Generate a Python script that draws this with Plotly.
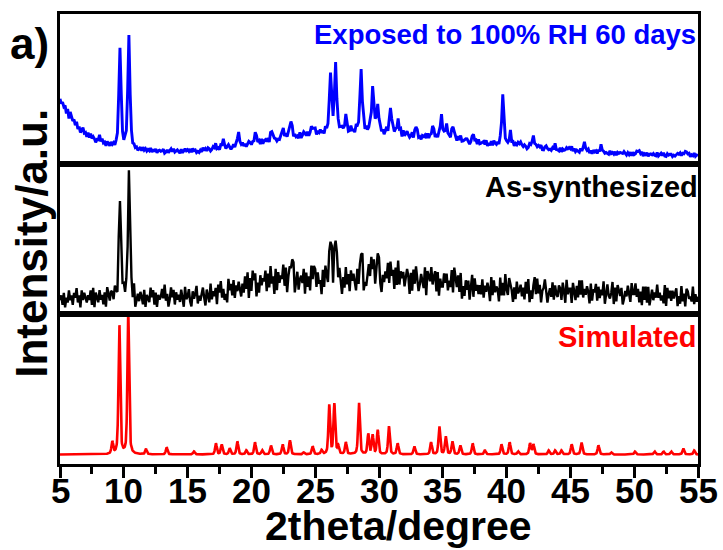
import numpy as np
import plotly.graph_objects as go

# ---- Simulated pattern: reflection positions (2theta, deg) and relative intensities
sim_pos = [9.10, 9.65, 10.35, 11.74, 13.36, 15.50, 17.22, 17.67, 18.30, 18.90,
           19.60, 20.28, 20.85, 21.53, 22.45, 23.02, 24.10, 24.80, 25.50, 26.10,
           26.50, 26.80, 27.40, 28.43, 29.16, 29.50, 29.90, 30.78, 31.46, 32.77,
           34.08, 34.73, 35.23, 35.75, 36.37, 37.34, 38.30, 39.60, 40.24, 40.90,
           41.84, 42.10, 43.30, 43.80, 44.30, 45.10, 45.87, 47.20, 48.20, 50.06,
           51.60, 52.30, 52.90, 53.85, 54.70]
sim_int = [12, 130, 139, 5, 7, 3, 11, 10, 6, 13,
           4, 12, 4, 9, 10, 14, 2, 8, 4, 49,
           50, 8, 12, 52, 20, 19, 24, 28, 11, 8,
           12, 28, 18, 13, 9, 11, 4, 10, 12, 3,
           11, 10, 4, 4, 4, 10, 12, 9, 2, 3,
           3, 3, 3, 6, 4]
sim_offset = 9.5

# ---- As-synthesized scan: reflections, amorphous background, point scatter
syn_pos = [9.1, 9.7, 10.4, 13.2, 23.1, 25.0, 26.2, 26.6, 28.6, 29.5,
           29.9, 30.9, 31.6, 34.3, 35.0, 35.9, 39.9, 42.2]
syn_int = [6, 100, 119, 8, 18, 8, 38, 50, 26, 24,
           22, 14, 9, 9, 7, 11, 7, 5]
syn_bg_pos = [22.0, 31.0, 44.0]
syn_bg_int = [15, 17, 6]
syn_bg_fwhm = [7.0, 11.0, 14.0]
syn_offset = 15.0
syn_jitter = (
    "4627153846 2759361847 5364829175 3846271953 6428519374"
    "7351846290 4637528164 3958271645 8372614958 2746385194"
    "5831746925 3684175293 6471859362 4195738264 7526384917"
    "3968152746 5827394618 2746593815 6389147256 4817362958"
    "6274518396 3859172648 5163947285 7428365914 3695817246"
    "8316475926 4728391657 3586172849 6247539186 5934728163"
    "2758364917 6483915274 7159284636 3826475193 8465193728"
    "4397516284 5736284915 2683947156 9514638274 3762851946"
    "6185273949 3647518265 8273649158 4359172864 7136485295"
    "5947261838 2815736494 6352918473 7468152936 1874539263"
    "5"
)

# ---- Sample exposed to 100% RH for 60 days
hum_pos = [8.1, 9.7, 10.4, 17.2, 17.8, 19.0, 20.3, 21.6, 22.5, 23.1,
           24.8, 26.2, 26.6, 27.4, 28.6, 29.5, 29.9, 30.9, 31.5, 32.9,
           34.2, 34.9, 35.3, 35.8, 36.4, 37.4, 39.7, 40.3, 41.0, 42.1,
           43.8, 45.1, 46.1, 47.4, 50.3, 54.0]
hum_int = [5, 100, 112, 5, 8, 14, 11, 10, 9, 15,
           7, 60, 63, 13, 63, 43, 26, 27, 14, 8,
           14, 24, 14, 15, 5, 7, 48, 12, 4, 13,
           4, 3, 9, 6, 4, 4]
hum_bg_pos = [4.0, 27.0, 38.0]
hum_bg_int = [70, 22, 9]
hum_bg_fwhm = [4.0, 13.0, 14.0]
hum_bg_eta = [1.0, 0.0, 0.0]
hum_offset = 8.5
hum_jitter = (
    "5364728195 4738261594 6283947515 3729461852 8461537294"
    "2945618373 6158294736 4927381564 5813726949 3674182595"
    "7482956131 5294738624 8361529474 2695148376 5148362797"
    "3615847292 6748193555 2437961848 7592634181 4863725926"
    "9264735184 3518269474 6742851393 5186473292 7359164845"
    "4736159282 5847362919 3695248176 8241657393 6127384955"
    "1856374926 7392514688 5148637293 4673915282 9536172844"
    "6429183757 2864751396 4317586922 7953426181 3281645979"
    "5718364293 4635927185 7281946353 2946381757 6594273818"
    "3472859164 8156473292 5839217466 1425869373 4768153925"
    "4"
)

x_ticks = [5, 10, 15, 20, 25, 30, 35, 40, 45, 50, 55]


def pseudo_voigt(x, pos, height, fwhm, eta):
    hw = fwhm / 2.0
    u = (x - pos) / hw
    return height * (eta / (1.0 + u ** 2) + (1.0 - eta) * np.exp(-np.log(2) * u ** 2))


def profile(x, positions, heights, fwhm, eta):
    y = np.zeros_like(x)
    for p, h in zip(positions, heights):
        y += pseudo_voigt(x, p, h, fwhm, eta)
    return y


def digits(s):
    return np.array([int(c) for c in s if c.isdigit()], dtype=float)


# simulated trace on a fine step
x_sim = np.arange(5.0, 55.0001, 0.02)
y_sim = sim_offset + profile(x_sim, sim_pos, sim_int, 0.16, 0.5)

# as-synthesized trace, 0.1 deg step
j_syn = (digits(syn_jitter) - 4.5) / 4.5
x_syn = 5.0 + 0.1 * np.arange(len(j_syn))
bg_syn = syn_offset + sum(pseudo_voigt(x_syn, p, h, w, 0.0)
                          for p, h, w in zip(syn_bg_pos, syn_bg_int, syn_bg_fwhm))
y_syn = bg_syn + profile(x_syn, syn_pos, syn_int, 0.2, 0.6) + 2.8 * np.sqrt(bg_syn) * j_syn

# humidity-exposed trace, 0.1 deg step
j_hum = (digits(hum_jitter) - 4.5) / 4.5
x_hum = 5.0 + 0.1 * np.arange(len(j_hum))
bg_hum = hum_offset + sum(pseudo_voigt(x_hum, p, h, w, e)
                          for p, h, w, e in zip(hum_bg_pos, hum_bg_int, hum_bg_fwhm, hum_bg_eta))
y_hum = bg_hum + profile(x_hum, hum_pos, hum_int, 0.2, 0.6) + 0.7 * np.sqrt(bg_hum) * j_hum

FONT = "Liberation Sans, Arial, sans-serif"
BORDER = 3

fig = go.Figure()
fig.add_trace(go.Scatter(x=x_sim, y=y_sim, mode="lines", line=dict(color="#FF0000", width=2.6),
                         xaxis="x", yaxis="y", showlegend=False, hoverinfo="skip"))
fig.add_trace(go.Scatter(x=x_syn, y=y_syn, mode="lines", line=dict(color="#000000", width=2.4),
                         xaxis="x2", yaxis="y2", showlegend=False, hoverinfo="skip"))
fig.add_trace(go.Scatter(x=x_hum, y=y_hum, mode="lines", line=dict(color="#0000FF", width=2.9),
                         xaxis="x3", yaxis="y3", showlegend=False, hoverinfo="skip"))

box = dict(showline=True, mirror=True, linewidth=BORDER, linecolor="black",
           showgrid=False, zeroline=False)

fig.update_layout(
    width=723, height=550,
    margin=dict(l=60, r=25, t=14, b=86),
    paper_bgcolor="white", plot_bgcolor="white",
    xaxis=dict(domain=[0, 1], anchor="y", range=[5, 55], tickmode="array", tickvals=x_ticks,
               showticklabels=False,
               ticks="outside", ticklen=11, tickwidth=BORDER, tickcolor="black",
               minor=dict(dtick=2.5, tick0=5, ticks="outside", ticklen=7,
                          tickwidth=BORDER, tickcolor="black"),
               **box),
    xaxis2=dict(domain=[0, 1], anchor="y2", range=[5, 55], matches="x",
                showticklabels=False, ticks="", **box),
    xaxis3=dict(domain=[0, 1], anchor="y3", range=[5, 55], matches="x",
                showticklabels=False, ticks="", **box),
    yaxis=dict(domain=[0, 1 / 3], anchor="x", range=[0, 150], showticklabels=False, ticks="", **box),
    yaxis2=dict(domain=[1 / 3, 2 / 3], anchor="x2", range=[0, 150], showticklabels=False, ticks="", **box),
    yaxis3=dict(domain=[2 / 3, 1], anchor="x3", range=[0, 150], showticklabels=False, ticks="", **box),
)

annotations = [
    dict(text="<b>Exposed to 100% RH 60 days</b>", x=1.0, xshift=0, y=0.955, xanchor="right", yanchor="middle",
         font=dict(family=FONT, size=27.5, color="#0000FF")),
    dict(text="<b>As-synthesized</b>", x=1.0, xshift=2, y=0.615, xanchor="right", yanchor="middle",
         font=dict(family=FONT, size=29, color="black")),
    dict(text="<b>Simulated</b>", x=1.0, xshift=1, y=0.282, xanchor="right", yanchor="middle",
         font=dict(family=FONT, size=29, color="#FF0000")),
    dict(text="<b>a)</b>", x=-0.082, y=0.935, xanchor="left", yanchor="middle",
         font=dict(family=FONT, size=44, color="black")),
    dict(text="<b>Intensity/a.u.</b>", x=-0.045, y=0.49, textangle=-90, xanchor="center", yanchor="middle",
         font=dict(family=FONT, size=44, color="black")),
    dict(text="<b>2theta/degree</b>", x=0.53, y=-0.138, xanchor="center", yanchor="middle",
         font=dict(family=FONT, size=41, color="black")),
]
for a in annotations:
    a.update(xref="paper", yref="paper", showarrow=False)

# x tick labels placed at the tick values
for v in x_ticks:
    annotations.append(dict(text="<b>%d</b>" % v, x=v, xref="x", y=-0.058, yref="paper",
                            xanchor="center", yanchor="middle", showarrow=False,
                            font=dict(family=FONT, size=35, color="black")))
fig.update_layout(annotations=annotations)

fig.write_html("out.html")
